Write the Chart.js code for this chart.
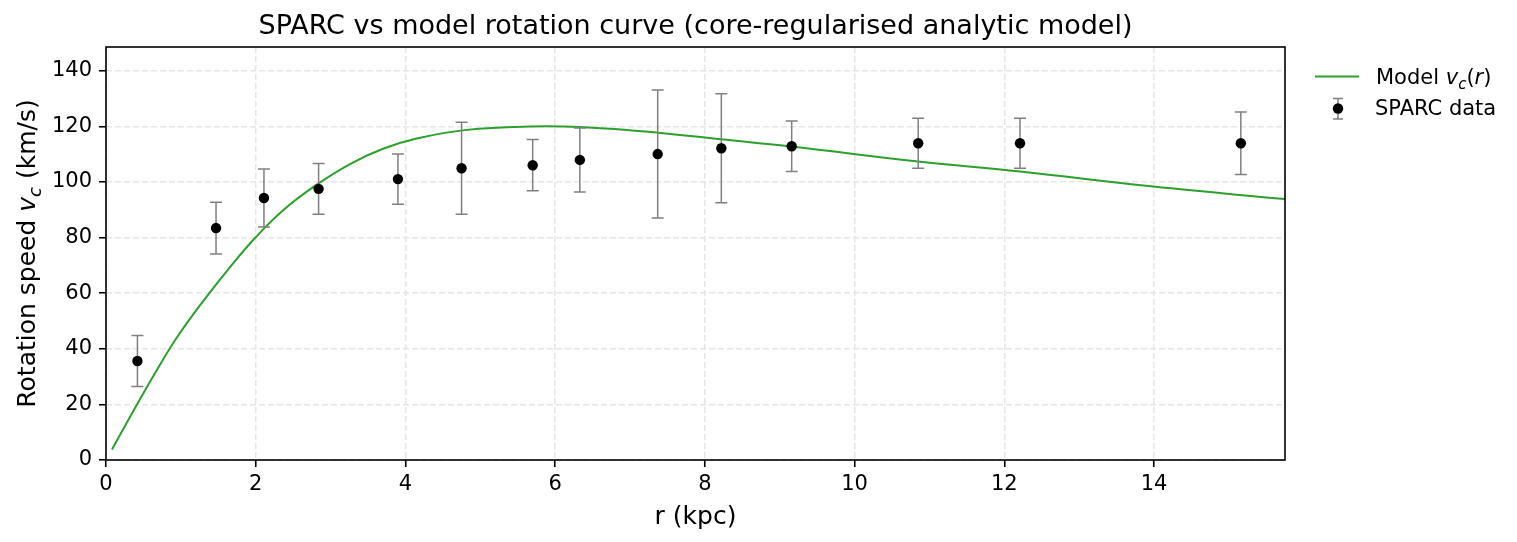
<!DOCTYPE html>
<html>
<head>
<meta charset="utf-8">
<script src="https://cdn.jsdelivr.net/npm/chart.js@4.4.1/dist/chart.umd.min.js"></script>
<style>
  body { margin: 0; background: #fff; }
</style>
</head>
<body>
<canvas id="rcChart" width="1517" height="542"></canvas>
<script>
// SPARC points (r in kpc, v in km/s, symmetric error)
var sparcR = [0.42, 1.47, 2.11, 2.84, 3.90, 4.75, 5.70, 6.33, 7.37, 8.22, 9.16, 10.85, 12.21, 15.16];
var sparcV = [35.6, 83.4, 94.2, 97.5, 101.0, 104.9, 106.0, 107.9, 110.0, 112.1, 112.8, 113.9, 113.9, 113.9];
var sparcErr = [9.2, 9.3, 10.4, 9.1, 9.0, 16.5, 9.2, 11.5, 23.0, 19.6, 9.1, 9.0, 9.0, 11.2];

// model curve
var modelR = [0.08, 0.41, 0.68, 0.94, 1.26, 1.70, 2.0, 2.37, 2.81, 3.26, 3.70, 4.15, 4.82, 5.66, 6.33, 7.37, 8.21, 9.16, 10.85, 12.21, 13.99, 15.75];
var modelV = [3.8, 19.8, 32.4, 43.8, 55.8, 70.8, 80.1, 89.9, 98.9, 106.4, 111.9, 115.6, 118.7, 119.9, 119.7, 117.7, 115.3, 112.7, 107.3, 103.7, 98.3, 93.8];

var xMax = 15.75;
var yMax = 148.5;

var titleText = "SPARC vs model rotation curve (core-regularised analytic model)";
var xLabel = "r (kpc)";
var yLabelParts = [["Rotation speed ", "n"], ["v", "i"], ["c", "s"], [" (km/s)", "n"]];
var legendModel = [["Model ", "n"], ["v", "i"], ["c", "s"], ["(", "n"], ["r", "i"], [")", "n"]];
var legendData = [["SPARC data", "n"]];

var FONT = '"DejaVu Sans", sans-serif';

function setPieceFont(c, kind, size) {
  if (kind === "i") c.font = "italic " + size + "px " + FONT;
  else if (kind === "s") c.font = "italic " + Math.round(size * 0.7) + "px " + FONT;
  else c.font = size + "px " + FONT;
}

// draw a little mathtext-ish run, returns width
function pieceRun(c, parts, x, y, size, draw) {
  var cx = x;
  for (var i = 0; i < parts.length; i++) {
    var p = parts[i];
    setPieceFont(c, p[1], size);
    if (draw) c.fillText(p[0], cx, p[1] === "s" ? y + size * 0.22 : y);
    cx += c.measureText(p[0]).width;
  }
  return cx - x;
}

var errorBars = {
  id: "errorBars",
  beforeDatasetDraw: function(chart, args) {
    if (args.index !== 0) return;
    var c = chart.ctx, xs = chart.scales.x, ys = chart.scales.y;
    c.save();
    c.strokeStyle = "#808080";
    c.lineWidth = 1.5;
    for (var i = 0; i < sparcR.length; i++) {
      var px = xs.getPixelForValue(sparcR[i]);
      var top = ys.getPixelForValue(sparcV[i] + sparcErr[i]);
      var bot = ys.getPixelForValue(sparcV[i] - sparcErr[i]);
      c.beginPath();
      c.moveTo(px, top); c.lineTo(px, bot);
      c.moveTo(px - 6, top); c.lineTo(px + 6, top);
      c.moveTo(px - 6, bot); c.lineTo(px + 6, bot);
      c.stroke();
    }
    c.restore();
  }
};

var decorations = {
  id: "decorations",
  afterDraw: function(chart) {
    var c = chart.ctx, a = chart.chartArea;
    c.save();
    // axes box
    c.strokeStyle = "#000";
    c.lineWidth = 1.6;
    c.strokeRect(a.left, a.top, a.right - a.left, a.bottom - a.top);

    c.fillStyle = "#000";
    c.textBaseline = "alphabetic";

    // title
    c.font = "27px " + FONT;
    c.textAlign = "center";
    c.fillText(titleText, (a.left + a.right) / 2, 34);

    // y label (rotated)
    c.textAlign = "left";
    c.save();
    c.translate(35, (a.top + a.bottom) / 2);
    c.rotate(-Math.PI / 2);
    var w = pieceRun(c, yLabelParts, 0, 0, 25, false);
    pieceRun(c, yLabelParts, -w / 2, 0, 25, true);
    c.restore();

    // legend
    c.strokeStyle = "#2ca02c";
    c.lineWidth = 2;
    c.beginPath();
    c.moveTo(1315, 76.5); c.lineTo(1359, 76.5);
    c.stroke();
    pieceRun(c, legendModel, 1376, 84, 21, true);

    c.strokeStyle = "#808080";
    c.lineWidth = 1.5;
    c.beginPath();
    c.moveTo(1338, 98.5); c.lineTo(1338, 119);
    c.moveTo(1333, 98.5); c.lineTo(1343, 98.5);
    c.moveTo(1333, 119); c.lineTo(1343, 119);
    c.stroke();
    c.beginPath();
    c.arc(1338, 108.5, 5.2, 0, Math.PI * 2);
    c.fill();
    pieceRun(c, legendData, 1375, 115, 21, true);
    c.restore();
  }
};

var ctx = document.getElementById("rcChart").getContext("2d");

var modelPts = modelR.map(function(r, i) { return {x: r, y: modelV[i]}; });
var sparcPts = sparcR.map(function(r, i) { return {x: r, y: sparcV[i]}; });

var myChart = new Chart(ctx, {
  type: "scatter",
  data: {
    datasets: [
      {
        label: "SPARC data",
        data: sparcPts,
        pointRadius: 5.2,
        pointBackgroundColor: "#000",
        pointBorderWidth: 0,
        showLine: false
      },
      {
        label: "Model",
        data: modelPts,
        showLine: true,
        borderColor: "#2ca02c",
        borderWidth: 2,
        pointRadius: 0,
        tension: 0.4,
        fill: false
      }
    ]
  },
  options: {
    responsive: false,
    animation: false,
    events: [],
    layout: { padding: { top: 47, right: 232, left: 0, bottom: 0 } },
    plugins: {
      legend: { display: false },
      title: { display: false },
      tooltip: { enabled: false }
    },
    scales: {
      x: {
        type: "linear",
        min: 0,
        max: xMax,
        afterFit: function(scale) { scale.height = 82; },
        ticks: {
          stepSize: 2,
          includeBounds: false,
          color: "#000",
          padding: 5,
          maxRotation: 0,
          font: { family: FONT, size: 21 }
        },
        grid: {
          color: "#e6e6e6",
          lineWidth: 1.5,
          tickColor: "#000",
          tickWidth: 1.6,
          tickLength: 7
        },
        border: { display: false, dash: [6, 3] },
        title: {
          display: true,
          text: xLabel,
          color: "#000",
          font: { family: FONT, size: 25 },
          padding: { top: 0, bottom: 10 }
        }
      },
      y: {
        type: "linear",
        min: 0,
        max: yMax,
        afterFit: function(scale) { scale.width = 106; },
        ticks: {
          stepSize: 20,
          includeBounds: false,
          color: "#000",
          padding: 7,
          font: { family: FONT, size: 21 }
        },
        grid: {
          color: "#e6e6e6",
          lineWidth: 1.5,
          tickColor: "#000",
          tickWidth: 1.6,
          tickLength: 7
        },
        border: { display: false, dash: [6, 3] }
      }
    }
  },
  plugins: [errorBars, decorations]
});
</script>
</body>
</html>
